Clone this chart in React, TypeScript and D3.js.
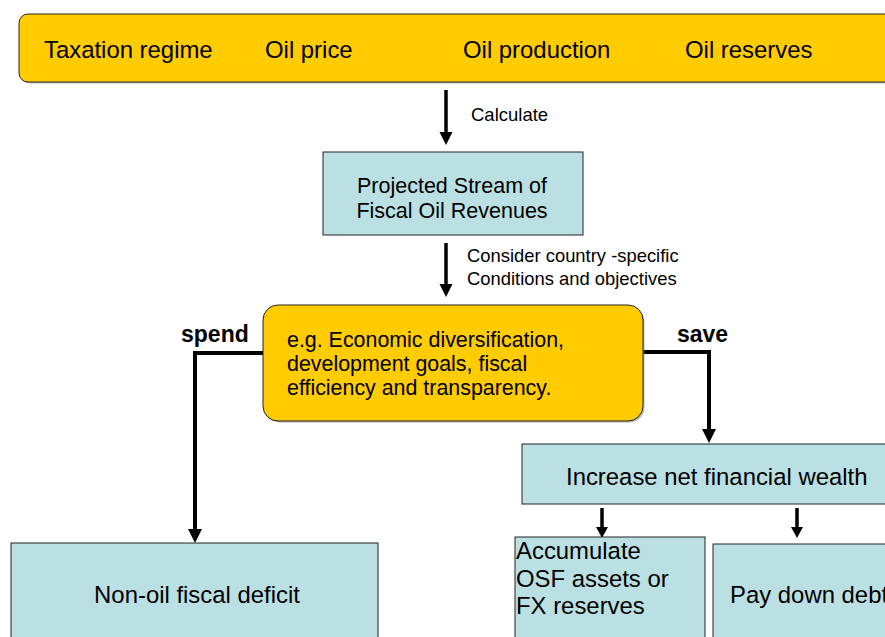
import React from "react";
import * as d3 from "d3";

const topFactors = ["Taxation regime", "Oil price", "Oil production", "Oil reserves"];
const stepLabels = ["Calculate"];
const considerLines = ["Consider country -specific", "Conditions and objectives"];
const projectedLines = ["Projected Stream of", "Fiscal Oil Revenues"];
const objectiveLines = ["e.g. Economic diversification,", "development goals, fiscal", "efficiency and transparency."];
const branchLabels = ["spend", "save"];
const wealthLabel = ["Increase net financial wealth"];
const accumulateLines = ["Accumulate", "OSF assets or", "FX reserves"];
const debtLabel = ["Pay down debt"];
const deficitLabel = ["Non-oil fiscal deficit"];

const YELLOW = "#FFCC00";
const BLUE = "#BBE0E3";
const FONT = "'Liberation Sans', Arial, Helvetica, sans-serif";

const W = 885;
const H = 637;

// layout
const topX = [44, 265, 463, 685];

function Arrow({ x, y1, y2, w = 3.5, hw = 6.5, hl = 13 }: any) {
  const line = d3.line();
  const shaft = line([[x, y1], [x, y2 - hl + 1]]) as string;
  const head = `M${x - hw},${y2 - hl} L${x + hw},${y2 - hl} L${x},${y2} Z`;
  return (
    <g>
      <path d={shaft} stroke="#000" strokeWidth={w} fill="none" />
      <path d={head} fill="#000" />
    </g>
  );
}

function ElbowArrow({ pts, w = 4, hw = 7, hl = 14 }: any) {
  const last = pts[pts.length - 1];
  const shaftPts = pts.slice(0, -1).concat([[last[0], last[1] - hl + 1]]);
  const line = d3.line();
  const head = `M${last[0] - hw},${last[1] - hl} L${last[0] + hw},${last[1] - hl} L${last[0]},${last[1]} Z`;
  return (
    <g>
      <path d={line(shaftPts) as string} stroke="#000" strokeWidth={w} fill="none" strokeLinejoin="miter" />
      <path d={head} fill="#000" />
    </g>
  );
}

function Box({ x, y, w, h, fill, rx = 0, shadow = false }: any) {
  return (
    <g>
      {shadow && <rect x={x + 1.5} y={y + 1.5} width={w} height={h} rx={rx} fill="#888" opacity={0.6} />}
      <rect x={x} y={y} width={w} height={h} rx={rx} fill={fill} stroke="#222" strokeWidth={1} />
    </g>
  );
}

export default function App() {
  return (
    <svg width={W} height={H} style={{ position: "absolute", left: 0, top: 0, background: "#fff" }} fontFamily={FONT}>
      <rect x={0} y={0} width={W} height={H} fill="#fff" />
      {/* top box */}
      <Box x={19} y={14} w={900} h={68} fill={YELLOW} rx={9} shadow />
      {topFactors.map((t, i) => (
        <text key={t} x={topX[i]} y={58} fontSize={23.9} fill="#000">{t}</text>
      ))}

      <Arrow x={446} y1={90} y2={145} />
      <text x={471} y={121} fontSize={18.5}>{stepLabels[0]}</text>

      <Box x={323} y={152} w={260} h={83} fill={BLUE} />
      {projectedLines.map((t, i) => (
        <text key={t} x={452} y={193 + i * 25} fontSize={21.5} textAnchor="middle">{t}</text>
      ))}

      <Arrow x={446} y1={243} y2={297} />
      {considerLines.map((t, i) => (
        <text key={t} x={467} y={262 + i * 23} fontSize={18.4}>{t}</text>
      ))}

      {/* branch lines */}
      <ElbowArrow pts={[[264, 353], [195, 353], [195, 543]]} />
      <ElbowArrow pts={[[642, 352], [709, 352], [709, 443]]} />
      <text x={181} y={342} fontSize={23} fontWeight="bold">{branchLabels[0]}</text>
      <text x={677} y={342} fontSize={23} fontWeight="bold">{branchLabels[1]}</text>

      <Box x={263} y={305} w={380} h={116} fill={YELLOW} rx={15} shadow />
      {objectiveLines.map((t, i) => (
        <text key={t} x={287} y={347 + i * 24} fontSize={21.4}>{t}</text>
      ))}

      <Box x={522} y={444} w={400} h={60} fill={BLUE} />
      <text x={566} y={485} fontSize={23.9}>{wealthLabel[0]}</text>

      <Arrow x={602} y1={508} y2={538} w={3.5} hw={6} hl={11} />
      <Arrow x={797} y1={508} y2={538} w={3.5} hw={6} hl={11} />

      <Box x={515} y={537} w={190} h={120} fill={BLUE} />
      {accumulateLines.map((t, i) => (
        <text key={t} x={516} y={559 + i * 27.5} fontSize={23.9}>{t}</text>
      ))}

      <Box x={713} y={544} w={200} h={120} fill={BLUE} />
      <text x={730} y={603} fontSize={23.9}>{debtLabel[0]}</text>

      <Box x={11} y={543} w={367} h={120} fill={BLUE} />
      <text x={197} y={603} fontSize={23.9} textAnchor="middle">{deficitLabel[0]}</text>
    </svg>
  );
}
